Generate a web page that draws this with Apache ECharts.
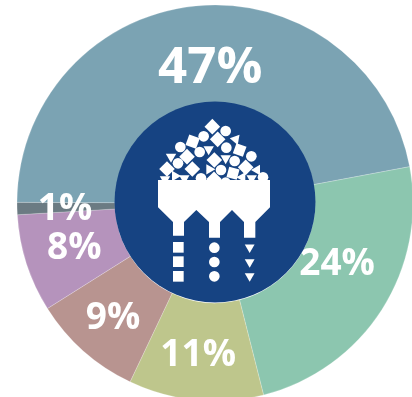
<!DOCTYPE html>
<html>
<head>
<meta charset="utf-8">
<style>html,body{margin:0;padding:0;background:#fff}#c{width:412px;height:397px}</style>
<script src="https://cdn.jsdelivr.net/npm/echarts@6/dist/echarts.min.js"></script>
</head>
<body>
<div id="c"></div>
<script>
// Share of each material, clockwise from the right-hand side of the ring
const shares = [24, 11, 9, 8, 1, 47];
const sliceColors = ['#8cc6af', '#bec68c', '#b89490', '#b593bc', '#6b7b83', '#7ba3b3'];
const labelOffsets = [[-6, -20], [-2, 1], [-1, 2], [4, -1], [2, 2], [9, 17]];
const labelSizes = [37, 37, 37, 37, 37, 51];

// Hopper icon outlines, in a local 3x grid
const hopper = [[144,240],[480,240],[480,322],[436,366],[436,413],[402,413],[402,366],[366,330],[330,366],[330,413],[297,413],[297,366],[259,330],[222,366],[222,407],[189,407],[189,366],[144,322]];
const pileCircles = [[347,93,16],[281,109,16],[211,141,16],[349,143,16],[269,156,16],[424,169,16],[374,183,16],[204,190,16],[333,210,16],[273,235,16],[459,232,16],[347,248,16]];
const pileSquares = [[307,80,23,45],[248,125,21,20],[323,118,23,45],[389,150,20,20],[231,170,23,45],[313,180,23,45],[171,207,23,45],[247,207,23,45],[369,220,20,15],[407,202,23,45],[312,238,23,45]];
const pileTriangles = [[377,118,-20],[183,170,0],[296,148,0],[347,175,0],[298,208,-90],[441,210,-30],[195,228,30],[223,235,0],[397,232,-30],[425,235,0],[165,238,0]];
const droppedSquares = [[205,442],[205,485],[205,529]];
const droppedCircles = [[313,443],[313,486],[313,529]];
const droppedTriangles = [[419,442],[419,486],[419,528]];

const ox = 110, oy = 100;
const px = (x, y) => [ox + x / 3, oy + y / 3];

function polygon(points) {
  return { type: 'polygon', shape: { points }, style: { fill: '#fff' }, z: 20 };
}
function circle([x, y, r]) {
  const [cx, cy] = px(x, y);
  return { type: 'circle', shape: { cx, cy, r: r / 3 }, style: { fill: '#fff' }, z: 20 };
}
function square([x, y, half, deg]) {
  const a = deg * Math.PI / 180, pts = [];
  for (let i = 0; i < 4; i++) {
    const t = a + i * Math.PI / 2 + Math.PI / 4, d = half * Math.SQRT2 * (deg === 45 ? 0.72 : 0.8);
    pts.push(px(x + d * Math.cos(t), y + d * Math.sin(t)));
  }
  return polygon(pts);
}
function triangle([x, y, deg], size) {
  const a = deg * Math.PI / 180, pts = [];
  for (let i = 0; i < 3; i++) {
    const t = a + Math.PI / 2 + i * 2 * Math.PI / 3;
    pts.push(px(x + size * Math.cos(t), y + size * Math.sin(t)));
  }
  return polygon(pts);
}

const iconParts = [
  ...pileCircles.map(circle),
  ...pileSquares.map(square),
  ...pileTriangles.map(t => triangle(t, 18)),
  polygon(hopper.map(([x, y]) => px(x, y))),
  ...droppedSquares.map(([x, y]) => polygon([[x-16,y-16],[x+16,y-16],[x+16,y+16],[x-16,y+16]].map(p => px(p[0], p[1])))),
  ...droppedCircles.map(([x, y]) => circle([x, y, 16])),
  ...droppedTriangles.map(([x, y]) => triangle([x, y, 0], 17))
];

const chart = echarts.init(document.getElementById('c'), null, { renderer: 'canvas' });
chart.setOption({
  animation: false,
  series: [{
    type: 'pie',
    center: [215, 203],
    radius: [100, 198],
    startAngle: 10.6,
    clockwise: true,
    silent: true,
    itemStyle: { borderColor: 'rgba(255,255,255,0.35)', borderWidth: 0.6 },
    label: {
      position: 'inside',
      color: '#fff',
      fontFamily: '"Open Sans"',
      fontWeight: 'bold',
      formatter: '{c}%'
    },
    labelLine: { show: false },
    data: shares.map((value, i) => ({
      value,
      itemStyle: { color: sliceColors[i] },
      label: { fontSize: labelSizes[i], offset: labelOffsets[i] }
    }))
  }],
  graphic: [
    { type: 'circle', shape: { cx: 215, cy: 202, r: 100.5 }, style: { fill: '#164382' }, z: 10 },
    ...iconParts
  ]
});
</script>
</body>
</html>
